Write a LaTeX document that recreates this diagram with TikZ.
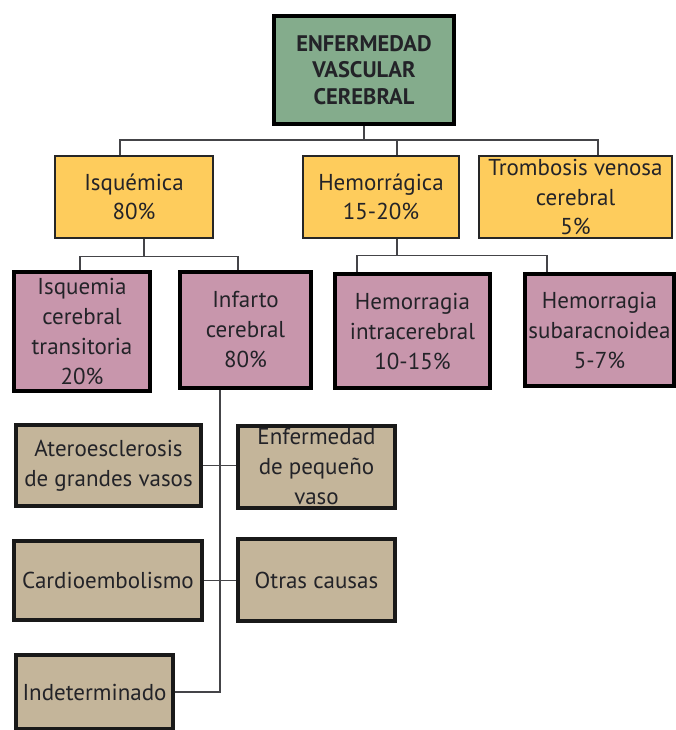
\documentclass[tikz,border=0pt]{standalone}
\usepackage{fontspec}
\setmainfont{PT Sans}
\usetikzlibrary{positioning}
\definecolor{sage}{RGB}{132,172,140}
\definecolor{mustard}{RGB}{254,204,92}
\definecolor{mauve}{RGB}{200,150,172}
\definecolor{khaki}{RGB}{196,181,154}
\definecolor{ink}{RGB}{35,35,40}
\tikzset{
  head/.style={draw=black,fill=sage,line width=4pt,minimum width=180pt,minimum height=108pt,
    align=center,text=ink,font=\fontsize{22.5}{26.5}\selectfont\bfseries},
  kind/.style={draw=black!85,fill=mustard,line width=2.5pt,minimum height=82pt,
    align=center,text=ink,inner sep=0pt,font=\fontsize{23}{29.5}\selectfont},
  sub/.style={draw=black,fill=mauve,line width=4.5pt,
    align=center,text=ink,inner sep=0pt,font=\fontsize{23}{30}\selectfont},
  cause/.style={draw=black!90,fill=khaki,line width=4pt,
    align=center,text=ink,inner sep=0pt,font=\fontsize{23}{30}\selectfont},
  link/.style={draw=ink!85,line width=1.5pt},
}
\begin{document}
\begin{tikzpicture}[x=1pt,y=-1pt]
  \useasboundingbox[fill=white] (0,0) rectangle (676,730);
  % levels
  \node[head] (evc) at (364,70) {ENFERMEDAD\\VASCULAR\\CEREBRAL};
  \node[kind,minimum width=158pt] (isq) at (134,197) {Isquémica\\80\%};
  \node[kind,minimum width=156pt] (hem) at (381,197) {Hemorrágica\\15-20\%};
  \node[kind,minimum width=193pt] (tvc) at (575.5,197) {Trombosis venosa\\cerebral\\5\%};
  \node[sub,minimum width=136pt,minimum height=119pt] (ait) at (82,331.5) {Isquemia\\cerebral\\transitoria\\20\%};
  \node[sub,minimum width=131pt,minimum height=116pt] (inf) at (245.5,330) {Infarto\\cerebral\\80\%};
  \node[sub,minimum width=155pt,minimum height=114pt] (hic) at (412.5,331) {Hemorragia\\intracerebral\\10-15\%};
  \node[sub,minimum width=149pt,minimum height=112pt] (hsa) at (599.5,330) {Hemorragia\\subaracnoidea\\5-7\%};
  % causas del infarto
  \node[cause,minimum width=185pt,minimum height=81pt] (ate) at (108.5,465.5) {Ateroesclerosis\\de grandes vasos};
  \node[cause,minimum width=157pt,minimum height=82pt] (epv) at (316.5,467) {Enfermedad\\de pequeño\\vaso};
  \node[cause,minimum width=188pt,minimum height=79pt] (car) at (108,580.5) {Cardioembolismo};
  \node[cause,minimum width=157pt,minimum height=82pt] (otr) at (316.5,580) {Otras causas};
  \node[cause,minimum width=157pt,minimum height=74pt] (ind) at (94.5,692) {Indeterminado};
  % conectores
  \coordinate (bus) at (364,140);
  \draw[link] (evc) -- (bus);
  \draw[link] ([xshift=-14pt]isq.north) |- (bus) -| ([xshift=22.5pt]tvc.north);
  \draw[link] ([xshift=16pt]hem.north) -- ([xshift=16pt]hem.north |- bus);
  \draw[link] ([xshift=10pt]isq.south) -- ++(0,17) coordinate (isqbus);
  \draw[link] ([xshift=-2pt]ait.north) |- (isqbus) -| ([xshift=-7.5pt]inf.north);
  \draw[link] ([xshift=16pt]hem.south) -- ++(0,16) coordinate (hembus);
  \draw[link] ([xshift=-55.5pt]hic.north) |- (hembus) -| ([xshift=-52.5pt]hsa.north);
  \draw[link] ([xshift=-25.5pt]inf.south) |- (ind.east);
  \draw[link] (ate.east) -- (ate.east -| epv.west);
  \draw[link] (car.east) -- (car.east -| otr.west);
\end{tikzpicture}
\end{document}
